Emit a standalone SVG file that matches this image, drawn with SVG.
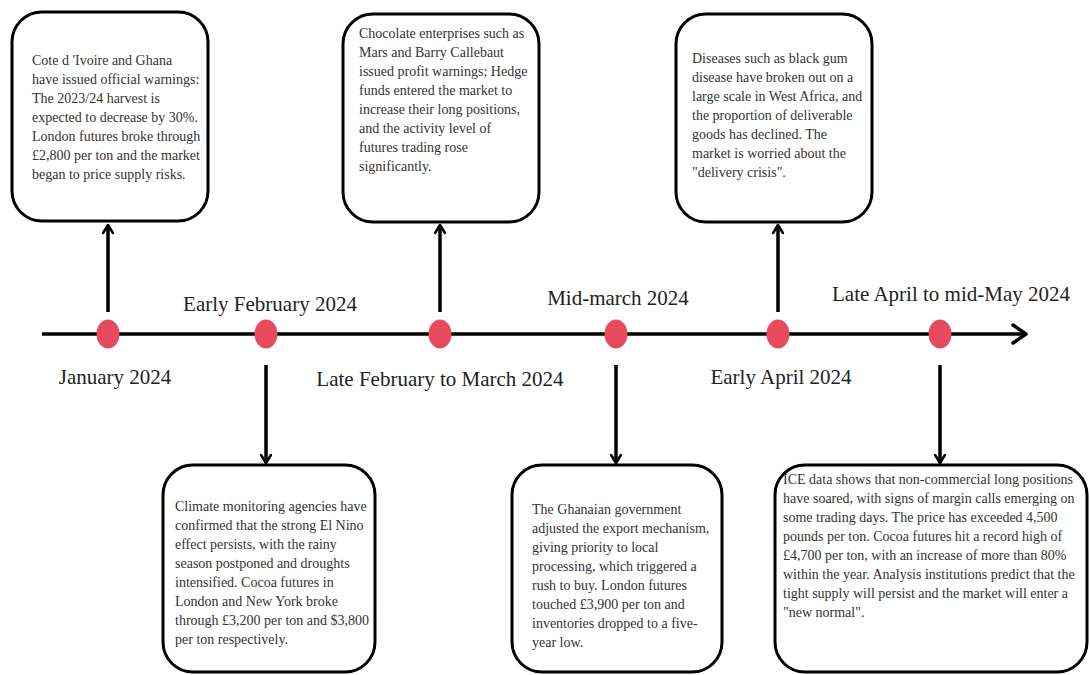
<svg xmlns="http://www.w3.org/2000/svg" width="1090" height="675" viewBox="0 0 1090 675">
<defs>
<style>
.box{fill:#fff;stroke:#000;stroke-width:3}
.txt{font-family:"Liberation Serif","Times New Roman",serif;font-size:14px;fill:#333}
.lbl{font-family:"Liberation Serif","Times New Roman",serif;font-size:21px;fill:#222;text-anchor:middle}
.dot{fill:#e64a5c}
.conn{stroke:#000;stroke-width:3.5;fill:none}
</style>
<marker id="ah" viewBox="0 0 12 12" refX="10" refY="6" markerWidth="12" markerHeight="12" markerUnits="userSpaceOnUse" orient="auto">
<path d="M2,1 L10,6 L2,11" fill="none" stroke="#000" stroke-width="2.6" stroke-linecap="round" stroke-linejoin="round"/>
</marker>
<marker id="ah2" viewBox="0 0 18 22" refX="16" refY="11" markerWidth="18" markerHeight="22" markerUnits="userSpaceOnUse" orient="auto">
<path d="M3,2 L16,11 L3,20" fill="none" stroke="#000" stroke-width="3.5" stroke-linecap="round" stroke-linejoin="round"/>
</marker>
</defs>
<rect width="1090" height="675" fill="#fff"/>
<g id="connectors">
<line class="conn" x1="42" y1="334" x2="1026" y2="334" stroke-width="4" marker-end="url(#ah2)"/>
<line class="conn" x1="108" y1="312" x2="108" y2="225" marker-end="url(#ah)"/>
<line class="conn" x1="440" y1="312" x2="440" y2="225" marker-end="url(#ah)"/>
<line class="conn" x1="778" y1="312" x2="778" y2="225" marker-end="url(#ah)"/>
<line class="conn" x1="266" y1="365" x2="266" y2="463" marker-end="url(#ah)"/>
<line class="conn" x1="616" y1="365" x2="616" y2="463" marker-end="url(#ah)"/>
<line class="conn" x1="940" y1="365" x2="940" y2="463" marker-end="url(#ah)"/>
</g>
<g id="dots">
<ellipse class="dot" cx="108" cy="334" rx="11.5" ry="14.5"/>
<ellipse class="dot" cx="266" cy="334" rx="11.5" ry="14.5"/>
<ellipse class="dot" cx="440" cy="334" rx="11.5" ry="14.5"/>
<ellipse class="dot" cx="616" cy="334" rx="11.5" ry="14.5"/>
<ellipse class="dot" cx="778" cy="334" rx="11.5" ry="14.5"/>
<ellipse class="dot" cx="940" cy="334" rx="11.5" ry="14.5"/>
</g>
<g id="labels">
<text class="lbl" x="115" y="384">January 2024</text>
<text class="lbl" x="270" y="311">Early February 2024</text>
<text class="lbl" x="440" y="386">Late February to March 2024</text>
<text class="lbl" x="618" y="305">Mid-march 2024</text>
<text class="lbl" x="781" y="384">Early April 2024</text>
<text class="lbl" x="951" y="301">Late April to mid-May 2024</text>
</g>
<g id="node-jan">
<rect class="box" x="12" y="12" width="196" height="209" rx="30"/>
<text class="txt" x="32" y="65">
<tspan x="32" dy="0">Cote d 'Ivoire and Ghana</tspan>
<tspan x="32" dy="19">have issued official warnings:</tspan>
<tspan x="32" dy="19">The 2023/24 harvest is</tspan>
<tspan x="32" dy="19">expected to decrease by 30%.</tspan>
<tspan x="32" dy="19">London futures broke through</tspan>
<tspan x="32" dy="19">£2,800 per ton and the market</tspan>
<tspan x="32" dy="19">began to price supply risks.</tspan>
</text>
</g>
<g id="node-latefeb">
<rect class="box" x="343" y="14" width="196" height="208" rx="30"/>
<text class="txt" x="359" y="38">
<tspan x="359" dy="0">Chocolate enterprises such as</tspan>
<tspan x="359" dy="19">Mars and Barry Callebaut</tspan>
<tspan x="359" dy="19">issued profit warnings; Hedge</tspan>
<tspan x="359" dy="19">funds entered the market to</tspan>
<tspan x="359" dy="19">increase their long positions,</tspan>
<tspan x="359" dy="19">and the activity level of</tspan>
<tspan x="359" dy="19">futures trading rose</tspan>
<tspan x="359" dy="19">significantly.</tspan>
</text>
</g>
<g id="node-earlyapr">
<rect class="box" x="676" y="14" width="196" height="208" rx="30"/>
<text class="txt" x="692" y="63">
<tspan x="692" dy="0">Diseases such as black gum</tspan>
<tspan x="692" dy="19">disease have broken out on a</tspan>
<tspan x="692" dy="19">large scale in West Africa, and</tspan>
<tspan x="692" dy="19">the proportion of deliverable</tspan>
<tspan x="692" dy="19">goods has declined. The</tspan>
<tspan x="692" dy="19">market is worried about the</tspan>
<tspan x="692" dy="19">"delivery crisis".</tspan>
</text>
</g>
<g id="node-earlyfeb">
<rect class="box" x="163" y="465" width="212" height="207" rx="30"/>
<text class="txt" x="175" y="511">
<tspan x="175" dy="0">Climate monitoring agencies have</tspan>
<tspan x="175" dy="19">confirmed that the strong El Nino</tspan>
<tspan x="175" dy="19">effect persists, with the rainy</tspan>
<tspan x="175" dy="19">season postponed and droughts</tspan>
<tspan x="175" dy="19">intensified. Cocoa futures in</tspan>
<tspan x="175" dy="19">London and New York broke</tspan>
<tspan x="175" dy="19">through £3,200 per ton and $3,800</tspan>
<tspan x="175" dy="19">per ton respectively.</tspan>
</text>
</g>
<g id="node-midmar">
<rect class="box" x="512" y="465" width="210" height="207" rx="30"/>
<text class="txt" x="532" y="514">
<tspan x="532" dy="0">The Ghanaian government</tspan>
<tspan x="532" dy="19">adjusted the export mechanism,</tspan>
<tspan x="532" dy="19">giving priority to local</tspan>
<tspan x="532" dy="19">processing, which triggered a</tspan>
<tspan x="532" dy="19">rush to buy. London futures</tspan>
<tspan x="532" dy="19">touched £3,900 per ton and</tspan>
<tspan x="532" dy="19">inventories dropped to a five-</tspan>
<tspan x="532" dy="19">year low.</tspan>
</text>
</g>
<g id="node-lateapr">
<rect class="box" x="775" y="465" width="312" height="207" rx="30"/>
<text class="txt" x="783" y="484">
<tspan x="783" dy="0">ICE data shows that non-commercial long positions</tspan>
<tspan x="783" dy="19">have soared, with signs of margin calls emerging on</tspan>
<tspan x="783" dy="19">some trading days. The price has exceeded 4,500</tspan>
<tspan x="783" dy="19">pounds per ton. Cocoa futures hit a record high of</tspan>
<tspan x="783" dy="19">£4,700 per ton, with an increase of more than 80%</tspan>
<tspan x="783" dy="19">within the year. Analysis institutions predict that the</tspan>
<tspan x="783" dy="19">tight supply will persist and the market will enter a</tspan>
<tspan x="783" dy="19">"new normal".</tspan>
</text>
</g>
</svg>
